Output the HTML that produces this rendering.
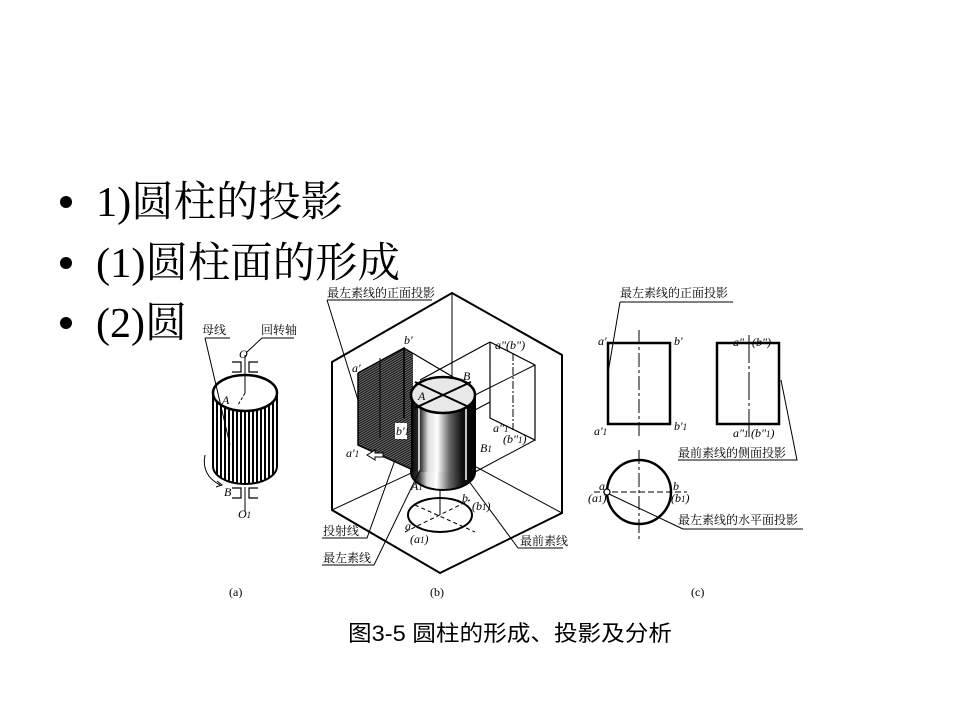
<!DOCTYPE html>
<html><head><meta charset="utf-8"><style>
html,body{margin:0;padding:0;background:#fff;width:960px;height:720px;overflow:hidden}
</style></head><body>
<svg width="960" height="720" viewBox="0 0 960 720" xmlns="http://www.w3.org/2000/svg">
<defs>
<pattern id="vs" width="4" height="10" patternUnits="userSpaceOnUse"><rect width="4" height="10" fill="#fff"/><rect width="2" height="10" fill="#000"/></pattern>
<pattern id="hatch" width="2" height="2" patternUnits="userSpaceOnUse" patternTransform="rotate(-30)"><rect width="2" height="2" fill="#888"/><rect width="2" height="1.2" fill="#111"/></pattern>
<linearGradient id="cyl" x1="0" x2="1" y1="0" y2="0">
<stop offset="0" stop-color="#111"/><stop offset="0.12" stop-color="#333"/><stop offset="0.25" stop-color="#ddd"/><stop offset="0.4" stop-color="#fff"/><stop offset="0.6" stop-color="#666"/><stop offset="0.8" stop-color="#111"/><stop offset="1" stop-color="#000"/>
</linearGradient>
</defs>
<g font-family="Liberation Serif, Noto Serif CJK SC, serif" font-size="42" fill="#000">
<circle cx="66" cy="202" r="6"/><text x="96" y="216" textLength="247" lengthAdjust="spacingAndGlyphs">1)圆柱的投影</text>
<circle cx="66" cy="263" r="6"/><text x="96" y="277" textLength="304" lengthAdjust="spacingAndGlyphs">(1)圆柱面的形成</text>
<circle cx="66" cy="323" r="6"/><text x="96" y="337">(2)圆柱的投影分析</text>
</g>
<rect x="187" y="285" width="635" height="318" fill="#fff"/>
<g stroke="#000" fill="none">
<!-- panel a -->
<ellipse cx="245" cy="466" rx="32" ry="18" fill="url(#vs)" stroke="#000" stroke-width="2"/>
<rect x="214" y="393" width="62" height="73" fill="url(#vs)" stroke="none"/>
<line x1="213" y1="393" x2="213" y2="466" stroke-width="2"/><line x1="277" y1="393" x2="277" y2="466" stroke-width="2"/>
<ellipse cx="245" cy="393" rx="32" ry="18" fill="#fff" stroke-width="2.5"/>
<line x1="245" y1="355" x2="245" y2="393"/><line x1="245" y1="393" x2="238" y2="405" stroke-dasharray="3,2"/>
<line x1="245" y1="487" x2="245" y2="512"/>
<path d="M232 362h9v10h-9M258 362h-9v10h9M232 488h9v10h-9M258 488h-9v10h9" stroke-width="1.2"/>
<path d="M205 455 q-4 20 15 30" /><path d="M217 481 l5 4 -6 2"/>
<path d="M205 338 L230 445 M205 338h25 M247 352 L262 338 h32" stroke-width="1"/>
<!-- panel b hexagon -->
<polygon points="452,293 562,355 562,513 440,573 332,510 332,362" stroke-width="2"/>
<path d="M452 293V454 M332 510 L452 454 M562 513 L452 454" stroke-width="1"/>
<polygon points="358,373 404,348 413,353 413,470 358,445" fill="url(#hatch)" stroke="none"/>
<path d="M358 373 L404 348 V418 M358 373 V445 L413 470" stroke-width="1.5"/>
<line x1="380" y1="358" x2="380" y2="438" stroke-width="1"/>
<rect x="395" y="423" width="12" height="16" fill="#fff" stroke="none"/>
<path d="M404 348 L475 390 M490 342 L535 365 V440 L490 418 V342 M420 380 L490 342" stroke-width="1.2"/>
<line x1="513" y1="353" x2="513" y2="430" stroke-dasharray="8,2,2,2" stroke-width="1"/>
<path d="M475 395 L535 365 M475 472 L535 440 M475 410 L490 402" stroke-width="1"/>
<ellipse cx="443" cy="472" rx="32" ry="18" fill="url(#cyl)" stroke="#000" stroke-width="2"/>
<rect x="413" y="395" width="61" height="77" fill="url(#cyl)" stroke="none"/>
<line x1="412" y1="395" x2="412" y2="472" stroke-width="2"/><line x1="475" y1="395" x2="475" y2="472" stroke-width="2"/>
<line x1="419" y1="405" x2="419" y2="472" stroke="#fff" stroke-width="1.5"/><line x1="466" y1="400" x2="466" y2="480" stroke="#fff" stroke-width="1.5"/>
<ellipse cx="443" cy="395" rx="32" ry="18" fill="#e8e8e8" stroke-width="2.5"/>
<path d="M415 382 L471 408 M415 408 L471 382" stroke-width="2"/>
<ellipse cx="440" cy="515" rx="32" ry="17" stroke-width="2"/>
<line x1="440" y1="490" x2="440" y2="515" stroke-width="1"/>
<path d="M405 532 L470 500 M415 505 L475 532" stroke-dasharray="4,3" stroke-width="1"/>
<path d="M375 450 l-8 5 8 5 v-3 h8 v-4 h-8z" stroke-width="1" fill="#fff"/>
<path d="M327 300 h105 M327 300 L358 400 M322 538 h45 L395 460 M322 565 h52 L420 470 M518 548 h45 M518 548 L468 480" stroke-width="1"/>
<!-- panel c -->
<rect x="608" y="343" width="62" height="81" stroke-width="2.5"/>
<rect x="717" y="343" width="62" height="81" stroke-width="2.5"/>
<line x1="639" y1="330" x2="639" y2="438" stroke-dasharray="14,3,3,3" stroke-width="1"/>
<line x1="749" y1="335" x2="749" y2="438" stroke-dasharray="28,3,3,3" stroke-width="1"/>
<circle cx="639" cy="492" r="32" stroke-width="2.5"/>
<line x1="639" y1="450" x2="639" y2="540" stroke-dasharray="14,3,3,3" stroke-width="1"/>
<line x1="594" y1="492" x2="687" y2="492" stroke-dasharray="6,3" stroke-width="1"/>
<circle cx="607" cy="492" r="3" fill="#fff" stroke-width="1.2"/>
<path d="M620 302 h113 M620 302 L608 373 M678 460 h119 L781 380 M683 529 h120 M683 529 L609 494" stroke-width="1"/>
</g>
<g font-family="Liberation Serif, Noto Serif CJK SC, serif" font-size="12" fill="#000">
<text x="202" y="334">母线</text><text x="261" y="334">回转轴</text>
<text x="239" y="358" font-style="italic">O</text><text x="222" y="404" font-style="italic">A</text>
<text x="224" y="496" font-style="italic">B</text><text x="238" y="518" font-style="italic">O<tspan font-size="9">1</tspan></text>
<text x="327" y="297">最左素线的正面投影</text>
<text x="352" y="372" font-style="italic">a'</text><text x="404" y="344" font-style="italic">b'</text>
<text x="396" y="435" font-style="italic">b'<tspan font-size="9">1</tspan></text>
<text x="346" y="457" font-style="italic">a'<tspan font-size="9">1</tspan></text>
<text x="495" y="349" font-style="italic">a"(b")</text>
<text x="493" y="432" font-style="italic">a"<tspan font-size="9">1</tspan></text><text x="503" y="443" font-style="italic">(b"<tspan font-size="9">1</tspan>)</text>
<text x="463" y="380" font-style="italic">B</text><text x="418" y="400" font-style="italic">A</text>
<text x="480" y="452" font-style="italic">B<tspan font-size="9">1</tspan></text>
<text x="411" y="490" font-style="italic">A<tspan font-size="9">1</tspan></text>
<text x="462" y="502" font-style="italic">b</text><text x="472" y="510" font-style="italic">(b<tspan font-size="9">1</tspan>)</text>
<text x="405" y="530" font-style="italic">a</text><text x="410" y="543" font-style="italic">(a<tspan font-size="9">1</tspan>)</text>
<text x="323" y="535">投射线</text><text x="323" y="562">最左素线</text><text x="520" y="545">最前素线</text>
<text x="620" y="297">最左素线的正面投影</text>
<text x="598" y="345" font-style="italic">a'</text><text x="674" y="345" font-style="italic">b'</text>
<text x="594" y="435" font-style="italic">a'<tspan font-size="9">1</tspan></text><text x="674" y="430" font-style="italic">b'<tspan font-size="9">1</tspan></text>
<text x="733" y="346" font-style="italic">a"</text><text x="752" y="346" font-style="italic">(b")</text>
<text x="733" y="437" font-style="italic">a"<tspan font-size="9">1</tspan></text><text x="751" y="437" font-style="italic">(b"<tspan font-size="9">1</tspan>)</text>
<text x="678" y="457">最前素线的侧面投影</text>
<text x="599" y="490" font-style="italic">a</text><text x="588" y="502" font-style="italic">(a<tspan font-size="9">1</tspan>)</text>
<text x="673" y="490" font-style="italic">b</text><text x="671" y="502" font-style="italic">(b<tspan font-size="9">1</tspan>)</text>
<text x="678" y="524">最左素线的水平面投影</text>
<text x="229" y="596">(a)</text><text x="430" y="596">(b)</text><text x="691" y="596">(c)</text>
</g>
<text x="348" y="641" font-family="Liberation Sans, Noto Sans CJK SC, sans-serif" font-size="22" fill="#000" textLength="324" lengthAdjust="spacingAndGlyphs">图3-5  圆柱的形成、投影及分析</text>
</svg>
</body></html>
